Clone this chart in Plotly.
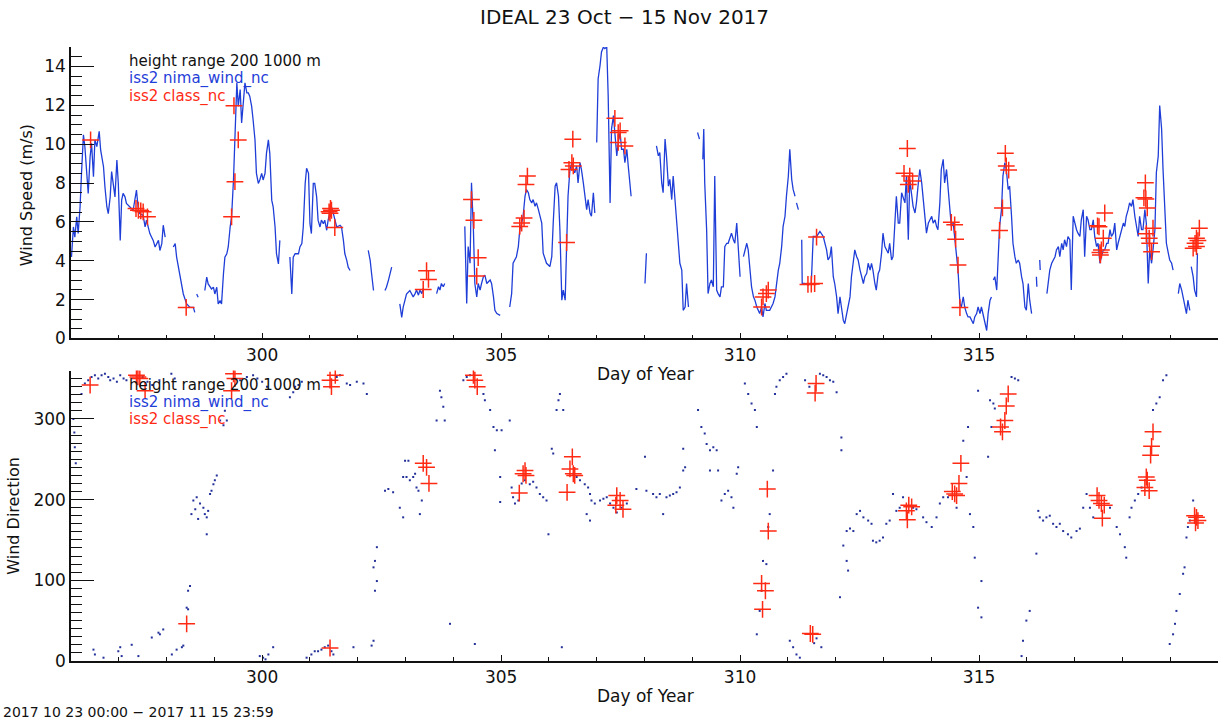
import plotly.graph_objects as go

# ---------------- data ----------------
# wind speed (nima) : day of year, m/s ; None marks a gap
speed_day = [296.01,296.05,296.08,296.12,296.15,296.19,296.22,296.26,296.29,296.33,296.36,296.40,296.43,296.47,296.50,296.54,296.59,296.62,296.68,296.71,296.75,296.78,296.82,296.85,296.89,296.92,296.96,296.99,297.03,297.06,297.09,297.13,297.16,297.23,297.30,297.37,297.41,297.44,297.51,297.55,297.58,297.65,297.72,297.76,297.83,297.86,297.90,297.93,297.97,None,
298.14,298.18,298.21,298.28,298.35,298.42,298.49,298.56,298.59,None,298.63,298.66,None,
298.80,298.84,298.87,298.94,298.98,299.01,299.05,299.08,299.12,299.15,299.19,299.22,299.26,299.29,299.33,299.36,299.40,299.43,299.47,299.50,299.54,299.57,299.61,299.64,299.68,299.71,299.74,299.78,299.81,299.85,299.88,299.92,299.95,299.99,300.02,300.06,300.09,300.13,300.16,300.20,300.23,300.27,300.30,300.34,300.37,None,
300.58,300.62,300.65,300.69,300.76,300.79,300.83,300.86,300.90,300.93,300.97,301.00,301.03,301.07,301.10,301.14,301.17,301.21,301.24,301.28,301.31,301.35,301.38,301.42,301.45,301.49,301.52,301.56,301.63,301.66,301.70,301.73,301.77,301.80,301.84,None,
302.22,302.26,302.29,302.33,None,302.57,302.60,302.64,302.67,302.71,None,
302.88,302.92,302.95,303.02,303.09,303.16,303.20,303.23,303.27,303.30,303.34,303.37,None,
303.65,303.69,303.72,303.75,303.79,303.82,None,
304.24,304.28,304.31,304.35,304.38,304.42,304.45,304.49,304.52,304.56,304.59,304.63,304.66,304.70,304.77,304.80,304.84,304.87,304.91,304.98,None,
305.18,305.22,305.25,305.29,305.32,305.36,305.39,305.43,305.46,305.50,305.53,305.57,305.60,305.64,305.67,305.71,305.74,305.78,305.81,305.85,305.88,305.92,305.95,306.02,306.06,306.09,306.13,306.16,306.20,306.23,306.27,306.30,306.34,306.37,306.40,306.44,306.48,306.51,306.54,306.58,306.61,306.65,306.68,306.72,306.75,306.79,306.82,306.86,306.89,306.93,306.96,None,
307.00,307.03,307.07,307.10,307.14,307.17,307.21,307.24,307.28,307.31,307.35,307.38,307.42,307.45,307.49,307.52,307.56,307.59,307.63,307.66,307.69,307.72,None,
308.01,308.04,None,
308.25,308.29,308.32,308.36,308.39,308.43,308.46,308.50,308.53,308.57,308.60,308.64,308.67,308.71,308.74,308.78,308.81,308.85,308.88,308.92,None,
309.11,309.15,None,
309.22,309.24,309.26,309.30,309.33,309.37,309.40,309.44,309.47,309.51,309.54,309.58,309.61,309.65,309.68,309.72,309.75,309.79,309.82,309.86,309.89,309.93,309.96,310.00,None,
310.07,310.14,310.17,310.21,310.24,310.28,310.31,310.35,310.38,310.41,310.45,310.48,310.52,310.55,310.62,310.69,310.73,310.76,310.80,310.83,310.87,310.90,310.94,310.97,311.01,311.04,311.08,311.11,311.15,None,
311.18,311.22,None,
311.29,311.30,311.36,311.42,311.49,311.53,311.60,311.67,311.74,311.81,311.84,311.88,311.91,311.95,311.98,312.02,312.05,312.09,312.12,312.16,312.19,312.23,312.26,312.30,312.33,312.37,312.40,312.44,312.47,312.51,312.54,312.58,312.61,312.65,312.68,312.72,312.75,312.78,312.82,312.85,312.89,312.92,312.96,312.99,313.03,313.06,313.10,313.13,313.17,313.20,313.24,313.27,313.31,313.34,313.38,313.41,313.45,313.48,313.52,313.55,313.59,313.62,313.66,313.69,313.73,313.76,313.80,313.83,313.87,313.90,313.94,313.97,314.01,314.04,314.08,314.11,314.14,314.18,314.21,314.25,314.28,314.32,314.35,314.39,314.42,314.46,314.49,314.53,314.56,314.60,314.63,314.67,314.70,314.74,314.77,314.81,314.84,314.88,314.91,314.95,314.98,315.02,315.05,315.09,315.12,315.16,315.19,315.23,315.26,None,
315.30,315.33,315.37,315.40,315.43,315.47,315.50,315.54,315.57,315.61,315.64,315.68,315.71,315.75,315.78,315.82,315.85,315.89,315.92,315.96,315.99,316.03,316.06,316.10,None,
316.20,316.21,None,316.27,316.28,None,
316.42,316.45,316.48,316.52,316.55,316.59,316.62,316.66,316.69,316.73,316.76,316.79,316.83,316.86,316.90,316.93,316.97,317.00,317.04,317.07,317.11,317.14,317.18,317.21,317.25,317.28,317.32,317.35,317.39,317.42,317.46,317.49,317.53,317.56,317.60,317.63,317.67,317.70,317.74,317.77,317.81,317.84,317.88,317.91,317.95,317.98,318.02,318.05,318.08,318.12,318.15,318.19,318.22,318.26,318.29,318.33,318.36,318.40,318.43,318.47,318.50,318.54,318.57,318.61,318.64,318.68,318.71,318.75,318.78,318.82,318.85,318.89,318.92,318.96,318.99,319.03,319.06,None,
319.17,319.20,319.24,319.27,319.30,319.34,319.37,319.41,None,
319.44,319.48,319.51,319.55,319.57]

speed_val = [4.19,5.74,5.22,6.26,5.40,6.78,8.50,10.48,9.88,8.16,7.47,9.36,10.05,8.33,10.22,9.88,10.66,9.71,8.84,7.81,6.78,6.43,7.29,8.59,7.81,7.29,9.19,7.98,5.05,7.12,7.47,7.29,6.95,6.78,6.60,7.64,6.60,6.43,6.34,5.74,6.09,5.40,5.05,4.71,5.05,4.53,4.88,5.83,5.22,None,
4.71,4.88,4.19,3.33,2.29,1.78,1.60,1.60,1.34,None,2.29,2.12,None,
2.47,3.16,2.81,2.55,2.64,2.29,2.64,1.78,1.95,1.78,3.33,4.19,4.36,4.71,5.74,6.26,8.16,10.05,13.16,11.95,12.81,11.09,12.29,13.16,12.64,12.64,12.47,11.95,11.26,10.22,8.50,7.98,8.16,8.50,8.16,8.50,9.53,10.22,9.53,7.12,6.78,5.74,4.36,3.84,5.05,None,
4.19,2.29,4.19,4.36,4.36,4.71,4.88,5.74,7.98,8.76,8.50,5.91,5.40,7.98,7.98,7.29,6.09,5.74,6.09,5.91,6.09,5.57,6.09,6.60,6.78,6.43,6.09,5.74,5.83,5.74,5.05,4.36,4.02,3.67,3.50,None,
4.53,4.02,3.33,2.47,None,2.47,2.64,2.98,3.33,3.67,None,
1.78,1.09,1.60,2.29,2.47,2.14,2.31,2.49,2.23,2.49,2.31,2.57,None,
2.31,2.66,2.49,2.83,2.66,2.83,None,
5.77,1.80,4.73,3.87,8.01,5.60,2.83,2.14,2.83,2.49,2.83,3.18,3.26,2.83,3.01,2.83,2.14,1.45,1.28,1.19,None,
1.62,2.31,3.87,4.04,4.21,4.73,5.60,5.94,6.29,7.32,7.67,7.50,7.15,6.98,7.15,6.80,6.98,6.63,6.29,5.94,4.39,4.04,3.87,3.70,4.21,5.94,7.84,8.01,7.32,5.60,1.97,2.49,1.97,4.73,7.32,8.70,9.05,8.70,8.53,8.88,8.01,9.05,8.70,8.01,7.32,6.63,7.15,6.46,6.29,7.50,6.46,None,
10.09,13.37,14.06,14.75,15.0,14.92,15.0,12.50,6.98,10.78,11.47,10.43,9.40,10.09,10.60,9.74,9.74,9.05,9.74,8.88,8.19,7.32,None,
2.83,4.39,None,
9.91,9.40,9.57,8.01,7.50,10.26,9.40,7.84,8.19,7.15,8.36,6.98,5.77,4.56,3.87,3.52,1.45,1.62,2.83,1.62,None,
10.60,10.26,None,
9.22,10.78,8.01,5.60,2.31,2.83,3.01,2.66,8.36,2.49,2.31,2.14,2.66,2.66,4.73,4.90,4.90,5.25,5.42,5.08,4.90,5.94,4.73,3.18,None,
4.21,4.90,4.56,3.18,2.66,2.14,1.97,1.62,1.45,1.28,1.62,1.11,1.80,1.45,1.45,1.80,2.14,2.83,3.52,3.87,4.73,5.77,6.29,7.32,8.36,9.74,8.19,7.67,7.32,None,
6.98,6.63,None,
5.08,2.83,2.83,2.75,2.83,5.25,5.25,5.51,5.25,4.56,4.04,4.21,4.73,3.18,2.83,2.14,1.28,2.14,1.62,0.93,0.76,1.28,1.62,2.14,3.18,3.87,4.56,4.21,4.04,3.52,3.18,2.83,3.18,3.35,3.87,3.52,3.87,3.52,2.83,2.49,3.35,3.52,4.39,5.42,4.73,4.56,4.39,4.90,4.04,4.21,5.77,7.32,5.94,5.94,7.50,7.32,6.98,8.36,5.08,8.19,7.32,6.80,6.46,6.98,8.01,8.70,8.01,7.32,6.29,5.42,5.94,6.11,6.29,5.94,6.11,5.77,5.60,6.98,8.70,9.22,8.01,8.70,7.84,6.29,5.77,5.94,5.25,4.21,3.52,1.80,1.62,2.14,1.62,1.28,1.11,1.11,0.93,0.76,1.11,1.28,1.62,1.28,1.62,1.11,0.76,0.41,1.28,1.97,2.14,None,
3.01,3.18,2.49,4.21,5.77,6.63,8.36,9.05,8.70,7.67,7.84,6.29,4.90,4.21,3.87,4.04,3.87,3.18,2.83,1.62,1.45,2.83,1.97,1.28,None,
3.18,2.66,None,4.04,3.52,None,
2.31,2.83,3.52,3.87,4.04,4.21,4.56,4.73,4.21,4.90,4.56,5.08,4.73,5.25,5.08,2.49,6.29,5.94,5.60,5.42,5.25,6.11,6.63,4.21,6.29,6.11,5.60,5.60,6.11,5.25,4.73,4.90,3.87,4.21,4.56,4.56,4.90,4.90,5.60,5.25,5.42,5.94,4.56,4.90,5.25,5.60,5.94,5.77,6.29,6.63,6.98,6.80,7.15,6.29,5.77,5.25,6.29,5.60,5.60,6.63,5.94,2.83,4.56,3.87,4.56,5.60,8.53,9.40,11.99,10.78,8.70,6.29,4.90,4.39,4.04,3.87,3.52,None,
2.31,2.83,2.49,2.14,1.80,1.28,1.97,1.45,None,
3.70,3.18,2.49,2.14,4.39]

# wind speed (class soundings)
class_speed_day = [296.41,297.36,297.41,297.46,297.51,297.60,298.41,299.36,299.43,299.50,299.41,301.40,301.43,301.45,301.42,301.52,
303.37,303.48,303.44,304.38,304.43,304.52,304.49,305.39,305.43,305.48,305.52,305.55,306.37,306.42,306.48,306.51,306.50,307.38,307.45,307.49,307.45,307.59,310.45,310.48,310.55,310.59,311.42,311.49,311.56,311.60,
313.50,313.43,313.55,313.52,313.61,314.42,314.49,314.51,314.56,314.60,315.55,315.57,315.62,315.49,315.43,317.48,317.51,317.63,317.60,317.53,317.56,317.54,318.48,318.45,318.49,318.52,318.50,318.64,318.56,318.57,318.61,319.61,319.55,319.58,319.48,319.52,319.55]
class_speed_val = [10.22,6.69,6.60,6.57,6.52,6.26,1.60,6.26,8.07,10.22,11.98,6.52,6.69,6.60,6.45,5.71,
2.52,3.04,3.49,7.15,6.08,4.16,3.21,5.77,5.94,6.20,7.93,8.36,4.94,8.70,9.05,8.88,10.26,11.33,10.60,10.69,10.09,9.91,1.62,2.14,2.31,2.49,2.78,2.80,2.83,5.22,
9.78,8.50,8.36,7.93,8.10,5.98,5.85,5.11,3.78,1.59,9.53,8.88,8.67,6.72,5.56,5.80,5.75,6.46,5.16,4.42,4.56,4.30,8.01,7.24,7.18,6.72,5.39,5.68,5.16,4.90,4.47,5.68,5.16,5.04,4.65,4.90,4.73]

# wind direction (nima)
dir_day = [296.05,296.07,296.08,296.10,296.22,296.29,296.36,296.43,296.50,296.57,296.64,296.71,296.78,296.82,296.89,296.96,297.03,297.10,297.16,297.50,297.60,297.70,297.85,298.10,298.17,
296.47,296.50,296.68,296.99,297.03,297.06,297.27,297.41,297.69,297.83,297.86,297.93,298.11,298.21,298.32,298.35,298.45,298.49,298.42,298.45,
298.52,298.56,298.63,298.70,298.77,298.80,298.84,298.87,298.91,298.94,298.98,299.01,299.05,298.84,298.60,298.66,
299.12,299.19,299.26,299.22,299.54,299.68,299.81,299.90,300.00,300.10,299.95,300.02,300.13,300.23,300.07,
300.58,300.65,300.69,300.76,300.83,300.93,301.03,301.10,301.17,301.24,301.31,301.38,301.45,301.49,
301.56,301.63,301.77,301.84,301.98,302.12,302.19,301.91,302.29,302.33,302.36,302.40,
302.33,302.36,302.40,302.57,302.64,302.74,302.88,302.95,303.06,302.95,
302.99,303.02,303.09,303.16,303.20,303.23,303.27,303.30,303.34,
303.65,303.72,303.75,303.79,303.82,303.93,304.45,304.21,304.28,304.35,
304.63,304.66,304.77,304.84,304.91,305.01,305.18,304.87,304.98,304.98,
305.22,305.25,305.29,305.36,305.43,305.50,305.60,305.67,305.74,305.81,305.88,305.95,305.99,
306.06,306.09,306.16,306.20,306.23,306.30,306.27,
306.51,306.58,306.65,306.75,306.82,306.86,306.89,306.96,307.07,307.14,307.21,307.28,307.35,307.42,307.52,307.63,306.86,306.79,
307.83,308.01,308.04,308.18,308.25,308.32,308.39,308.46,308.53,308.60,308.67,308.74,308.81,308.85,308.81,
309.12,309.19,309.26,309.30,309.37,309.44,309.51,309.37,309.54,309.61,309.68,309.75,309.82,309.86,309.93,309.96,
310.10,310.17,310.24,310.31,310.35,310.35,310.41,310.45,310.48,310.55,310.59,310.62,310.69,
310.73,310.76,310.83,310.90,310.97,311.04,311.11,311.18,311.25,311.36,311.45,
311.67,311.74,311.81,311.88,311.95,312.02,311.70,311.55,311.60,312.12,312.12,312.16,312.23,312.26,312.09,312.23,312.30,312.37,312.44,312.51,312.58,312.68,312.75,312.78,312.85,312.92,312.99,313.06,313.13,313.20,313.27,313.34,313.41,313.62,313.69,313.83,313.90,314.01,314.11,314.18,314.25,314.35,314.53,314.67,314.77,314.74,314.81,314.88,314.91,314.98,315.05,315.05,314.98,315.23,315.30,315.33,315.26,315.19,315.68,315.75,315.82,315.92,315.89,315.99,316.06,
316.20,316.24,316.27,316.34,316.41,316.48,316.55,316.62,316.69,316.76,316.86,316.93,317.04,317.11,317.18,317.25,317.32,317.39,317.74,317.88,317.95,318.05,318.08,318.15,318.19,318.26,318.33,318.40,318.64,318.71,318.78,318.85,318.92,
318.99,319.06,319.10,319.13,319.20,319.27,319.30,319.34,319.37,319.41,319.48]
dir_val = [300,283,265,245,331,344,348,352,354,350,354,356,352,348,350,346,354,350,348,352,346,342,348,356,350,
14,8,4,12,17,6,20,6,29,35,33,39,8,14,17,19,64,93,66,87,
182,199,203,195,190,182,178,186,207,211,219,224,230,157,188,176,
298,292,298,310,348,352,354,350,346,340,6,4,8,17,2,
327,333,340,342,346,4,8,12,12,14,17,19,12,8,
352,354,344,342,346,344,331,17,19,25,87,99,
116,124,141,211,213,209,190,178,248,228,
248,228,224,228,232,215,211,182,199,
298,335,327,315,298,46,21,348,352,354,
331,323,311,290,286,286,298,261,228,197,
215,203,195,199,220,224,219,222,215,207,203,199,157,
263,257,311,323,331,311,17,
232,228,224,219,215,207,199,195,199,201,203,195,190,184,190,195,174,182,
213,253,211,207,203,207,182,203,205,207,209,215,236,240,263,
311,290,282,269,261,265,261,236,236,199,207,211,203,190,232,240,
344,331,319,311,290,33,62,87,124,120,166,182,236,
331,340,348,352,356,25,17,8,4,348,340,
356,354,352,348,346,333,17,22,28,277,261,143,124,112,79,161,164,161,182,186,178,174,170,149,147,149,153,170,174,207,186,190,203,190,188,178,172,166,178,195,203,203,190,273,290,228,182,166,128,66,99,54,335,323,319,313,290,253,352,350,348,25,6,50,62,
133,186,178,174,178,180,170,166,170,161,157,153,161,164,190,207,190,178,190,166,157,141,128,178,190,199,207,215,311,319,327,348,354,
21,33,46,62,83,108,116,153,166,174,199]

# wind direction (class soundings)
class_dir_day = [296.40,297.37,297.44,297.55,297.40,298.42,299.40,299.43,299.36,301.42,301.45,301.53,301.42,
303.37,303.44,303.49,304.42,304.50,304.45,305.38,305.46,305.52,305.50,306.38,306.44,306.49,306.51,306.54,307.42,307.49,307.40,307.55,310.57,310.59,310.45,310.53,310.47,311.47,311.52,311.59,311.57,
313.53,313.48,313.59,313.50,314.62,314.58,314.44,314.49,314.53,315.61,315.57,315.54,315.45,315.49,317.47,317.51,317.56,317.62,317.58,318.64,318.61,318.59,318.50,318.52,318.47,318.56,319.51,319.55,319.58,319.53]
class_dir_val = [342,354,350,335,352,46,356,350,335,348,340,354,16,
245,240,220,354,340,348,208,232,230,236,209,238,253,232,230,205,199,193,188,213,161,96,87,64,34,33,344,332,
193,186,191,175,245,220,210,207,205,331,316,298,290,284,205,199,195,193,177,284,266,255,228,224,215,211,180,178,174,171]

x_ticks = [300, 305, 310, 315]
speed_ticks = [0, 2, 4, 6, 8, 10, 12, 14]
dir_ticks = [0, 100, 200, 300]

title_text = "IDEAL 23 Oct \u2212 15 Nov 2017"
legend_lines = ["height range 200 1000 m", "iss2 nima_wind_nc", "iss2 class_nc"]
date_text = "2017 10 23 00:00 \u2212 2017 11 15 23:59"

# ---------------- styling ----------------
W, H = 1221, 719          # target picture size (positions below are in these pixels)
FIG_H = 730               # figure height that lands on the 719 px picture
BLUE = "#1f3ed8"
DOT = "#23309a"
RED = "#ff2a14"
FONT = "DejaVu Sans"
x0, x1 = 71 / W, 1218 / W
top_dom = [1 - 338 / H, 1 - 47 / H]
bot_dom = [1 - 660 / H, 1 - 370 / H]

fig = go.Figure()
fig.add_trace(go.Scatter(x=speed_day, y=speed_val, mode="lines", connectgaps=False,
                         line=dict(color=BLUE, width=1.3), xaxis="x", yaxis="y", showlegend=False))
fig.add_trace(go.Scatter(x=class_speed_day, y=class_speed_val, mode="markers",
                         marker=dict(symbol="cross-thin", size=12, line=dict(color=RED, width=1.5)),
                         xaxis="x", yaxis="y", showlegend=False))
fig.add_trace(go.Scatter(x=dir_day, y=dir_val, mode="markers",
                         marker=dict(symbol="square", size=2, color=DOT, line=dict(width=0)),
                         xaxis="x2", yaxis="y2", showlegend=False))
fig.add_trace(go.Scatter(x=class_dir_day, y=class_dir_val, mode="markers",
                         marker=dict(symbol="cross-thin", size=12, line=dict(color=RED, width=1.5)),
                         xaxis="x2", yaxis="y2", showlegend=False))

xcommon = dict(range=[296, 320], showline=True, linecolor="#111", linewidth=1.5,
               ticks="inside", ticklen=6, tickwidth=1.2, tickcolor="#111",
               tickvals=x_ticks, showgrid=False, zeroline=False,
               tickfont=dict(family=FONT, size=17, color="#111"),
               minor=dict(dtick=1, tick0=296, ticks="inside", ticklen=4, tickcolor="#111", tickwidth=1, showgrid=False))
ycommon = dict(showline=True, linecolor="#111", linewidth=1.5, ticks="inside", ticklen=23,
               tickwidth=1.2, tickcolor="#111", showgrid=False, zeroline=False,
               tickfont=dict(family=FONT, size=17, color="#111"))

fig.update_layout(
    width=W, height=FIG_H, autosize=False,
    margin=dict(l=0, r=0, t=0, b=0),
    paper_bgcolor="white", plot_bgcolor="white",
    xaxis=dict(domain=[x0, x1], anchor="y", **xcommon),
    yaxis=dict(domain=top_dom, anchor="x", range=[0, 15], tickvals=speed_ticks,
               minor=dict(dtick=0.5, tick0=0, ticks="inside", ticklen=11, tickcolor="#111", tickwidth=1.2, showgrid=False),
               **ycommon),
    xaxis2=dict(domain=[x0, x1], anchor="y2", **xcommon),
    yaxis2=dict(domain=bot_dom, anchor="x2", range=[0, 360], tickvals=dir_ticks,
                minor=dict(dtick=10, tick0=0, ticks="inside", ticklen=11, tickcolor="#111", tickwidth=1.2, showgrid=False),
                **ycommon),
)

def px_ann(text, x, y, size, color="#111", xanchor="center", angle=0):
    fig.add_annotation(text=text, x=x / W, y=1 - y / H, xref="paper", yref="paper",
                       xanchor=xanchor, yanchor="middle", showarrow=False, textangle=angle,
                       font=dict(family=FONT, size=size, color=color))

px_ann(title_text, 624, 17, 20)
px_ann("Day of Year", 645, 373, 17)
px_ann("Day of Year", 645, 695, 17)
px_ann("Wind Speed (m/s)", 26, 195, 16, angle=-90)
px_ann("Wind Direction", 14, 515, 16, angle=-90)
px_ann(date_text, 1, 711, 14, xanchor="left")
leg_colors = ["#111", BLUE, RED]
for i, (t, c) in enumerate(zip(legend_lines, leg_colors)):
    px_ann(t, 127, 61 + i * 17.5, 15, color=c, xanchor="left")
    px_ann(t, 127, 384 + i * 17.5, 15, color=c, xanchor="left")

fig.write_html("out.html", config={"displayModeBar": False},
               post_script="document.body.style.margin='0px';document.body.style.overflow='hidden';")
